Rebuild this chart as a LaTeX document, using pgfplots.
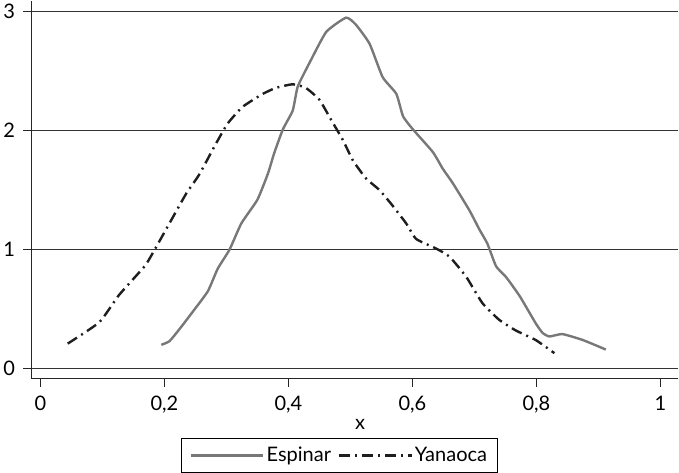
\documentclass[border=0pt]{standalone}
\usepackage{pgfplots}
\pgfplotsset{compat=1.18}
\usepackage{fontspec}
\setmainfont{Lato}
\definecolor{espgray}{RGB}{120,120,120}
\definecolor{yanblack}{RGB}{30,30,30}
\begin{document}
\begin{tikzpicture}
\begin{axis}[
  scale only axis,
  width=647pt, height=378pt,
  xmin=-0.0145, xmax=1.029,
  ymin=-0.084, ymax=3.093,
  axis lines*=left,
  axis line style={-, line width=1.3pt, black!85},
  xtick={0,0.2,0.4,0.6,0.8,1},
  xticklabels={0,{0,2},{0,4},{0,6},{0,8},1},
  ytick={0,1,2,3},
  tick align=outside,
  major tick length=8pt,
  tick style={line width=1.2pt, black!85},
  ymajorgrids,
  major grid style={line width=0.9pt, black!80},
  /pgf/number format/assume math mode=true,
  ticklabel style={font=\fontsize{20}{23}\selectfont},
  xticklabel style={yshift=-6pt},
  yticklabel style={xshift=-5pt},
  xlabel={x},
  xlabel style={font=\fontsize{20}{23}\selectfont, at={(axis description cs:0.508,-0.122)}, anchor=center},
  legend columns=2,
  legend style={at={(0.476,-0.157)}, anchor=north, draw=black, line width=0.8pt,
    font=\fontsize{20}{23}\selectfont, inner xsep=8pt, inner ysep=7pt,
    /tikz/every even column/.append style={column sep=5pt}},
  legend image code/.code={\draw[#1] (0cm,0cm) -- (2.55cm,0cm);},
]
\addplot[espgray, line width=2.4pt, smooth, tension=0.3] coordinates {
(0.195,0.20) (0.208,0.23) (0.224,0.33) (0.246,0.48) (0.270,0.65) (0.286,0.84) (0.305,1.00) (0.324,1.22) (0.350,1.42) (0.367,1.64) (0.377,1.81) (0.391,2.01) (0.407,2.17) (0.415,2.37) (0.434,2.57) (0.461,2.83) (0.493,2.95) (0.509,2.89) (0.531,2.73) (0.552,2.45) (0.574,2.31) (0.585,2.12) (0.601,2.01) (0.633,1.82) (0.649,1.68) (0.665,1.56) (0.692,1.33) (0.708,1.17) (0.721,1.05) (0.735,0.86) (0.751,0.77) (0.773,0.61) (0.799,0.38) (0.810,0.30) (0.821,0.27) (0.842,0.29) (0.875,0.24) (0.912,0.16)
};
\addlegendentry{Espinar}
\addplot[yanblack, line width=2.4pt, smooth, tension=0.3, dash pattern=on 11pt off 5pt on 2pt off 5pt] coordinates {
(0.044,0.21) (0.095,0.39) (0.127,0.62) (0.168,0.86) (0.181,0.97) (0.208,1.22) (0.235,1.47) (0.256,1.63) (0.283,1.89) (0.302,2.06) (0.326,2.20) (0.359,2.31) (0.380,2.36) (0.407,2.39) (0.428,2.36) (0.450,2.26) (0.469,2.09) (0.488,1.92) (0.504,1.75) (0.525,1.60) (0.547,1.50) (0.568,1.37) (0.590,1.22) (0.606,1.09) (0.638,1.01) (0.660,0.94) (0.687,0.77) (0.713,0.55) (0.740,0.41) (0.767,0.32) (0.799,0.24) (0.829,0.13)
};
\addlegendentry{Yanaoca}
\end{axis}
\end{tikzpicture}
\end{document}
